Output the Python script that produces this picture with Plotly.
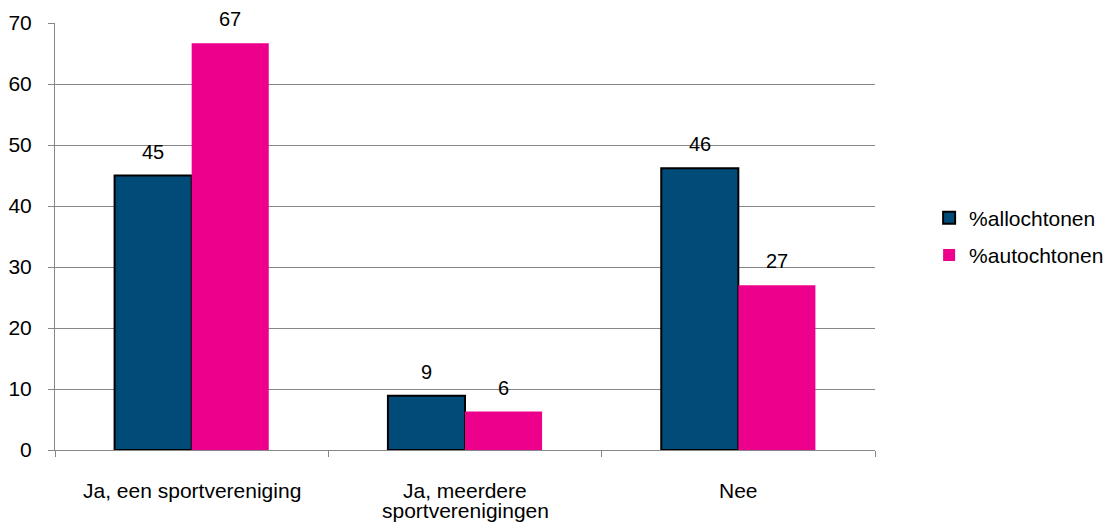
import plotly.graph_objects as go

categories = ["Ja, een sportvereniging", "Ja, meerdere<br>sportverenigingen", "Nee"]
allochtonen = [45.0, 8.9, 46.2]
autochtonen = [66.7, 6.3, 27.0]
labels_allo = ["45", "9", "46"]
labels_auto = ["67", "6", "27"]
y_ticks = [0, 10, 20, 30, 40, 50, 60, 70]

BLUE = "#014B78"
PINK = "#EC008C"
GRID = "#868686"
FONT = "Liberation Sans, Arial, sans-serif"

fig = go.Figure()
fig.add_trace(go.Bar(x=categories, y=allochtonen, name="%allochtonen", legendgroup="a",
                     marker=dict(color=BLUE, line=dict(color="#000000", width=2))))
fig.add_trace(go.Bar(x=categories, y=autochtonen, name="%autochtonen", legendgroup="b",
                     marker=dict(color=PINK, line=dict(color=PINK, width=0))))

bar_w = 0.282
for i, c in enumerate(categories):
    for off, vals, labs in ((-bar_w / 2, allochtonen, labels_allo), (bar_w / 2, autochtonen, labels_auto)):
        fig.add_annotation(x=i + off, y=vals[i], text=labs[i], showarrow=False,
                           xref="x", yref="y", yanchor="middle", yshift=24,
                           font=dict(family=FONT, size=20, color="#000000"))
    # category labels (tight line spacing as in the reference)
    for k, line in enumerate(c.split("<br>")):
        fig.add_annotation(x=c, y=0, text=line, showarrow=False, xref="x", yref="y",
                           yanchor="middle", yshift=-40 - 20 * k,
                           font=dict(family=FONT, size=21, color="#000000"))

# page body has an 8px default margin, so the figure is sized/offset to compensate
fig.update_layout(
    width=1105, height=515,
    margin=dict(l=47, r=238, t=15, b=73, autoexpand=False),
    paper_bgcolor="white", plot_bgcolor="white",
    barmode="group", bargap=0.436, bargroupgap=0,
    font=dict(family=FONT, size=21, color="#000000"),
    showlegend=True,
    legend=dict(x=1.066, y=0.5, xanchor="left", yanchor="middle",
                font=dict(family=FONT, size=21), itemwidth=30, tracegroupgap=7),
)
fig.update_xaxes(type="category", tickson="boundaries", ticks="outside", ticklen=6,
                 tickcolor=GRID, showline=True, linecolor=GRID, linewidth=1,
                 showgrid=False, automargin=False, showticklabels=False)
fig.update_yaxes(range=[0, 70], tickvals=y_ticks, ticks="outside", ticklen=6,
                 tickcolor=GRID, showline=True, linecolor=GRID, linewidth=1,
                 showgrid=True, gridcolor=GRID, gridwidth=1, zeroline=False,
                 automargin=False, ticklabelstandoff=12,
                 tickfont=dict(family=FONT, size=21))

fig.write_html("out.html")
